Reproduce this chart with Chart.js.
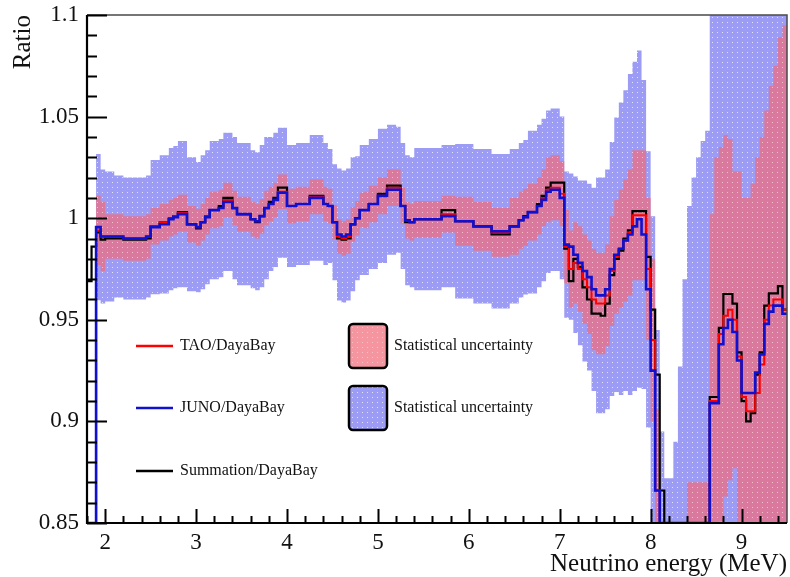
<!DOCTYPE html>
<html>
<head>
<meta charset="utf-8">
<script src="https://cdn.jsdelivr.net/npm/chart.js@4/dist/chart.umd.min.js"></script>
<style>
  html, body { margin: 0; padding: 0; background: #ffffff; }
  #wrap { position: relative; width: 790px; height: 577px; }
</style>
</head>
<body>
<div id="wrap"><canvas id="ratioChart" width="790" height="577"></canvas></div>
<script>
// Histogram binning (MeV)
const E_MIN = 1.8;
const BIN_WIDTH = 0.05;
const X_MIN = 1.8, X_MAX = 9.5;
const Y_MIN = 0.85, Y_MAX = 1.1;

const xTickValues = [2, 3, 4, 5, 6, 7, 8, 9];
const yTickValues = [0.85, 0.9, 0.95, 1, 1.05, 1.1];
const yTickLabels = ['0.85', '0.9', '0.95', '1', '1.05', '1.1'];

// JUNO / DayaBay ratio, one value per 0.05 MeV bin starting at 1.8 MeV
const junoRatio = [
  0.84, 0.84, 0.9956, 0.991, 0.991, 0.991, 0.991, 0.991, 0.990, 0.990,
  0.990, 0.990, 0.990, 0.991, 0.9956, 0.9956, 0.997, 0.997, 0.9995, 1.0005,
  1.002, 1.002, 0.997, 0.997, 0.9956, 0.998, 1.0005, 1.004, 1.004, 1.005,
  1.008, 1.008, 1.005, 1.002, 1.002, 1.002, 0.9995, 0.9985, 1.001, 1.005,
  1.007, 1.009, 1.0125, 1.0125, 1.006, 1.006, 1.007, 1.007, 1.007, 1.010,
  1.010, 1.010, 1.007, 1.006, 0.998, 0.992, 0.991, 0.992, 0.997, 1.000,
  1.004, 1.004, 1.007, 1.007, 1.011, 1.011, 1.014, 1.014, 1.014, 1.006,
  0.999, 0.998, 0.9995, 0.9995, 0.9995, 0.9995, 0.9995, 0.9995, 1.001, 1.001,
  1.001, 0.9985, 0.9985, 0.9985, 0.9985, 0.996, 0.996, 0.996, 0.996, 0.9936,
  0.9936, 0.9936, 0.9936, 0.996, 0.996, 0.999, 1.0005, 1.003, 1.003, 1.006,
  1.009, 1.013, 1.014, 1.014, 1.010, 0.987, 0.986, 0.982, 0.978, 0.974,
  0.971, 0.965, 0.962, 0.962, 0.965, 0.975, 0.982, 0.985, 0.989, 0.992,
  0.996, 0.9995, 0.992, 0.965, 0.925, 0.866, 0.84, 0.84, 0.84, 0.84,
  0.84, 0.84, 0.84, 0.84, 0.84, 0.84, 0.84, 0.909, 0.909, 0.938,
  0.946, 0.950, 0.944, 0.930, 0.914, 0.914, 0.914, 0.924, 0.933, 0.948,
  0.954, 0.957, 0.957, 0.953
];

// TAO / DayaBay ratio
const taoRatio = [
  0.84, 0.84, 0.994, 0.991, 0.991, 0.991, 0.991, 0.991, 0.990, 0.990,
  0.990, 0.990, 0.990, 0.991, 0.996, 0.996, 0.998, 0.998, 1.000, 1.001,
  1.0025, 1.0025, 0.997, 0.997, 0.9956, 0.998, 1.001, 1.004, 1.004, 1.005,
  1.009, 1.009, 1.005, 1.002, 1.002, 1.002, 0.9995, 0.9985, 1.001, 1.005,
  1.007, 1.009, 1.013, 1.013, 1.006, 1.006, 1.007, 1.007, 1.007, 1.0105,
  1.0105, 1.0105, 1.007, 1.006, 0.998, 0.991, 0.990, 0.991, 0.997, 1.000,
  1.004, 1.004, 1.007, 1.007, 1.011, 1.011, 1.015, 1.015, 1.015, 1.006,
  0.999, 0.998, 0.9995, 0.9995, 0.9995, 0.9995, 0.9995, 0.9995, 1.002, 1.002,
  1.002, 0.9985, 0.9985, 0.9985, 0.9985, 0.996, 0.996, 0.996, 0.996, 0.993,
  0.993, 0.993, 0.993, 0.996, 0.996, 0.999, 1.0005, 1.003, 1.003, 1.006,
  1.010, 1.014, 1.015, 1.015, 1.012, 0.986, 0.975, 0.978, 0.975, 0.970,
  0.966, 0.960, 0.958, 0.958, 0.962, 0.974, 0.981, 0.985, 0.989, 0.993,
  1.0015, 1.0015, 1.0015, 0.975, 0.940, 0.866, 0.84, 0.84, 0.84, 0.84,
  0.84, 0.84, 0.84, 0.84, 0.84, 0.84, 0.84, 0.910, 0.910, 0.943,
  0.952, 0.955, 0.950, 0.932, 0.912, 0.905, 0.905, 0.914, 0.928, 0.950,
  0.957, 0.960, 0.960, 0.955
];

// Summation / DayaBay ratio
const sumRatio = [
  0.969, 0.986, 0.993, 0.9895, 0.990, 0.990, 0.990, 0.990, 0.9895, 0.9895,
  0.9895, 0.9895, 0.9895, 0.990, 0.996, 0.996, 0.998, 0.998, 1.000, 1.001,
  1.003, 1.003, 0.997, 0.997, 0.995, 0.998, 1.001, 1.004, 1.004, 1.006,
  1.010, 1.010, 1.005, 1.002, 1.002, 1.002, 0.9995, 0.998, 1.001, 1.005,
  1.008, 1.010, 1.015, 1.015, 1.006, 1.006, 1.007, 1.007, 1.007, 1.011,
  1.011, 1.011, 1.007, 1.006, 0.998, 0.990, 0.9895, 0.990, 0.997, 1.000,
  1.004, 1.004, 1.007, 1.007, 1.012, 1.012, 1.016, 1.016, 1.016, 1.006,
  0.998, 0.998, 0.9995, 0.9995, 0.9995, 0.9995, 0.9995, 0.9995, 1.004, 1.004,
  1.004, 0.9985, 0.9985, 0.9985, 0.9985, 0.996, 0.996, 0.996, 0.996, 0.992,
  0.992, 0.992, 0.992, 0.996, 0.996, 0.999, 1.001, 1.003, 1.003, 1.007,
  1.011, 1.015, 1.0175, 1.0175, 1.0175, 0.985, 0.969, 0.980, 0.976, 0.966,
  0.960, 0.953, 0.953, 0.952, 0.958, 0.972, 0.980, 0.984, 0.990, 0.994,
  1.0035, 1.0035, 1.0035, 0.981, 0.955, 0.923, 0.866, 0.84, 0.84, 0.84,
  0.84, 0.84, 0.84, 0.84, 0.84, 0.84, 0.84, 0.912, 0.912, 0.946,
  0.9627, 0.9627, 0.958, 0.934, 0.910, 0.900, 0.904, 0.923, 0.934, 0.957,
  0.963, 0.963, 0.9666, 0.955
];

// Statistical uncertainty (half-width) of the JUNO ratio
const junoErr = [
  0, 0, 0.036, 0.033, 0.032, 0.032, 0.030, 0.030, 0.030, 0.030,
  0.030, 0.030, 0.030, 0.030, 0.033, 0.033, 0.034, 0.034, 0.035, 0.035,
  0.036, 0.036, 0.033, 0.033, 0.032, 0.033, 0.033, 0.034, 0.034, 0.034,
  0.034, 0.034, 0.035, 0.035, 0.035, 0.035, 0.034, 0.034, 0.035, 0.035,
  0.033, 0.033, 0.032, 0.032, 0.030, 0.030, 0.030, 0.030, 0.030, 0.031,
  0.031, 0.031, 0.030, 0.028, 0.0285, 0.0325, 0.0325, 0.0325, 0.033, 0.0305,
  0.032, 0.032, 0.032, 0.032, 0.033, 0.033, 0.032, 0.032, 0.031, 0.031,
  0.032, 0.032, 0.035, 0.035, 0.035, 0.035, 0.035, 0.035, 0.035, 0.035,
  0.035, 0.038, 0.038, 0.038, 0.038, 0.038, 0.038, 0.038, 0.038, 0.038,
  0.038, 0.038, 0.038, 0.038, 0.038, 0.038, 0.038, 0.040, 0.040, 0.040,
  0.040, 0.040, 0.040, 0.040, 0.040, 0.036, 0.036, 0.0385, 0.0405, 0.0445,
  0.046, 0.050, 0.058, 0.058, 0.059, 0.0625, 0.0675, 0.072, 0.074, 0.079,
  0.081, 0.083, 0.076, 0.068, 0.076, 0.079, 0.055, 0.032, 0.032, 0.050,
  0.087, 0.130, 0.166, 0.180, 0.190, 0.198, 0.203, 0.200, 0.200, 0.200,
  0.200, 0.200, 0.200, 0.200, 0.200, 0.200, 0.200, 0.200, 0.200, 0.200,
  0.200, 0.200, 0.200, 0.200
];

// Statistical uncertainty (half-width) of the TAO ratio
const taoErr = [
  0, 0, 0.017, 0.017, 0.011, 0.011, 0.011, 0.011, 0.011, 0.011,
  0.011, 0.011, 0.011, 0.011, 0.009, 0.009, 0.009, 0.009, 0.009, 0.009,
  0.009, 0.009, 0.009, 0.009, 0.009, 0.009, 0.009, 0.009, 0.009, 0.009,
  0.0085, 0.0085, 0.0085, 0.0085, 0.0085, 0.0085, 0.0085, 0.0085, 0.0085, 0.0085,
  0.0085, 0.0085, 0.0085, 0.0085, 0.0085, 0.0085, 0.0085, 0.0085, 0.0085, 0.0085,
  0.0085, 0.0085, 0.0085, 0.0085, 0.0085, 0.0085, 0.0085, 0.0085, 0.0085, 0.0085,
  0.0085, 0.009, 0.009, 0.009, 0.009, 0.009, 0.009, 0.009, 0.009, 0.009,
  0.009, 0.009, 0.009, 0.009, 0.009, 0.009, 0.009, 0.009, 0.009, 0.009,
  0.009, 0.012, 0.012, 0.012, 0.012, 0.012, 0.012, 0.012, 0.012, 0.012,
  0.012, 0.012, 0.012, 0.014, 0.014, 0.014, 0.014, 0.014, 0.014, 0.014,
  0.014, 0.016, 0.016, 0.016, 0.016, 0.018, 0.019, 0.020, 0.021, 0.022,
  0.023, 0.025, 0.025, 0.025, 0.025, 0.027, 0.028, 0.029, 0.030, 0.031,
  0.032, 0.032, 0.032, 0.035, 0.040, 0.040, 0.005, 0.005, 0.005, 0.005,
  0.005, 0.005, 0.030, 0.030, 0.030, 0.030, 0.030, 0.092, 0.120, 0.092,
  0.089, 0.084, 0.073, 0.091, 0.098, 0.105, 0.112, 0.116, 0.112, 0.103,
  0.108, 0.115, 0.129, 0.140
];

const clampY = v => Math.min(Y_MAX, Math.max(Y_MIN, v));

// Histogram outline: one point per bin lower edge plus the closing upper edge
function histPoints(values, valueAt) {
  const pts = values.map((v, i) => ({ x: E_MIN + i * BIN_WIDTH, y: clampY(valueAt(v, i)) }));
  pts.push({ x: E_MIN + values.length * BIN_WIDTH, y: pts[pts.length - 1].y });
  return pts;
}

function dotPattern(base, dot) {
  const tile = document.createElement('canvas');
  tile.width = 5; tile.height = 5;
  const g = tile.getContext('2d');
  g.fillStyle = base; g.fillRect(0, 0, 5, 5);
  g.fillStyle = dot; g.fillRect(2, 2, 1, 1);
  return g.createPattern(tile, 'repeat');
}

const ctx = document.getElementById('ratioChart').getContext('2d');
const junoFill = dotPattern('rgb(156,156,244)', 'rgba(235,235,255,0.9)');
const taoFill = dotPattern('rgba(240,108,124,0.72)', 'rgba(255,225,225,0.6)');

const SERIF = "'Liberation Serif', 'Times New Roman', serif";

const legendLines = [
  { label: 'TAO/DayaBay', color: '#ff0000' },
  { label: 'JUNO/DayaBay', color: '#1010d0' },
  { label: 'Summation/DayaBay', color: '#000000' }
];
const legendBoxes = [
  { label: 'Statistical uncertainty', fill: taoFill, under: '#ffffff' },
  { label: 'Statistical uncertainty', fill: junoFill, under: '#ffffff' }
];

// Frame, inward ticks and the in-frame legend
const rootStyle = {
  id: 'rootStyle',
  afterDatasetsDraw(chart) {
    const { ctx: c, chartArea: a, scales: { x, y } } = chart;
    c.save();
    c.strokeStyle = '#4a4a4a';
    c.lineWidth = 1.5;
    c.beginPath();
    c.moveTo(a.left, a.top); c.lineTo(a.right, a.top); c.lineTo(a.right, a.bottom);
    c.stroke();

    c.strokeStyle = '#000';
    c.lineWidth = 2;
    c.beginPath();
    // minor / major x ticks
    for (let k = 0; k <= 38; k++) {
      const v = X_MIN + 0.2 * k;
      const px = Math.round(x.getPixelForValue(v)) + 0.5;
      const major = xTickValues.some(t => Math.abs(t - v) < 1e-6);
      c.moveTo(px, a.bottom);
      c.lineTo(px, a.bottom - (major ? 14 : 7));
    }
    // minor / major y ticks
    for (let k = 0; k <= 25; k++) {
      const v = Y_MIN + 0.01 * k;
      const py = Math.round(y.getPixelForValue(v)) + 0.5;
      const major = k % 5 === 0;
      c.moveTo(a.left, py);
      c.lineTo(a.left + (major ? 20 : 10), py);
    }
    c.stroke();

    c.lineWidth = 2.2;
    c.beginPath();
    c.moveTo(a.left, a.top); c.lineTo(a.left, a.bottom); c.lineTo(a.right, a.bottom);
    c.stroke();

    // legend
    c.font = '16px ' + SERIF;
    c.fillStyle = '#111';
    c.textBaseline = 'middle';
    const rowY = [a.top + 331, a.top + 393, a.top + 456];
    legendLines.forEach((it, i) => {
      c.strokeStyle = it.color;
      c.lineWidth = 2.5;
      c.beginPath();
      c.moveTo(a.left + 49, rowY[i]); c.lineTo(a.left + 86, rowY[i]);
      c.stroke();
      c.fillStyle = '#111';
      c.fillText(it.label, a.left + 93, rowY[i]);
    });
    legendBoxes.forEach((it, i) => {
      const bx = a.left + 262, by = rowY[i] - 22, bw = 38, bh = 44;
      c.beginPath();
      c.roundRect(bx, by, bw, bh, 4);
      c.fillStyle = it.under; c.fill();
      c.fillStyle = it.fill; c.fill();
      c.strokeStyle = '#000'; c.lineWidth = 2.5; c.stroke();
      c.fillStyle = '#111';
      c.fillText(it.label, a.left + 307, rowY[i]);
    });
    c.restore();
  }
};

new Chart(ctx, {
  type: 'line',
  data: {
    datasets: [
      { label: 'JUNO stat. upper', data: histPoints(junoRatio, (v, i) => v + junoErr[i]),
        borderWidth: 0, stepped: 'before', fill: false, order: 11 },
      { label: 'Statistical uncertainty', data: histPoints(junoRatio, (v, i) => v - junoErr[i]),
        borderWidth: 0, stepped: 'before', fill: '-1', backgroundColor: junoFill, order: 10 },
      { label: 'TAO stat. upper', data: histPoints(taoRatio, (v, i) => v + taoErr[i]),
        borderWidth: 0, stepped: 'before', fill: false, order: 9 },
      { label: 'Statistical uncertainty', data: histPoints(taoRatio, (v, i) => v - taoErr[i]),
        borderWidth: 0, stepped: 'before', fill: '-1', backgroundColor: taoFill, order: 8 },
      { label: 'Summation/DayaBay', data: histPoints(sumRatio, v => v),
        borderColor: '#000000', borderWidth: 2.2, stepped: 'before', fill: false, order: 3 },
      { label: 'TAO/DayaBay', data: histPoints(taoRatio, v => v),
        borderColor: '#ff0000', borderWidth: 2, stepped: 'before', fill: false, order: 2 },
      { label: 'JUNO/DayaBay', data: histPoints(junoRatio, v => v),
        borderColor: '#1010d0', borderWidth: 2.6, stepped: 'before', fill: false, order: 1 }
    ]
  },
  options: {
    responsive: false,
    animation: false,
    layout: { padding: { top: 15, right: 3, left: 0, bottom: 0 } },
    elements: { point: { radius: 0, hitRadius: 0 }, line: { tension: 0 } },
    plugins: { legend: { display: false }, tooltip: { enabled: false } },
    scales: {
      x: {
        type: 'linear', min: X_MIN, max: X_MAX,
        grid: { display: false, drawTicks: false },
        border: { display: false },
        afterBuildTicks: s => { s.ticks = xTickValues.map(v => ({ value: v })); },
        afterFit: s => { s.height = 54; s.paddingLeft = 0; s.paddingRight = 0; },
        ticks: { font: { family: SERIF, size: 23 }, color: '#111', padding: 6,
                 maxRotation: 0, autoSkip: false, callback: v => String(v) },
        title: { display: true, text: 'Neutrino energy (MeV)', align: 'end', color: '#111',
                 font: { family: SERIF, size: 25, lineHeight: 1 }, padding: { top: 0, bottom: 0 } }
      },
      y: {
        type: 'linear', min: Y_MIN, max: Y_MAX,
        grid: { display: false, drawTicks: false },
        border: { display: false },
        afterBuildTicks: s => { s.ticks = yTickValues.map(v => ({ value: v })); },
        afterFit: s => { s.width = 87; s.paddingTop = 0; s.paddingBottom = 0; },
        ticks: { font: { family: SERIF, size: 23 }, color: '#111', padding: 8, autoSkip: false,
                 callback: (v, i) => yTickLabels[i] },
        title: { display: true, text: 'Ratio', align: 'end', color: '#111',
                 font: { family: SERIF, size: 25, lineHeight: 1 }, padding: { top: 11, bottom: 0 } }
      }
    }
  },
  plugins: [rootStyle]
});
</script>
</body>
</html>
